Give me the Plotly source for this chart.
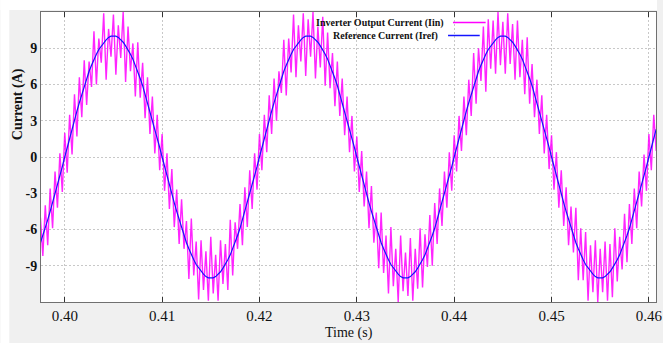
import plotly.graph_objects as go

# ---------------- data ----------------
T_START = 0.3975      # s, first sample
T_STEP = 0.00025      # s, sample spacing

x_tick_values = [0.40, 0.41, 0.42, 0.43, 0.44, 0.45, 0.46]
x_tick_labels = ["0.40", "0.41", "0.42", "0.43", "0.44", "0.45", "0.46"]
y_tick_values = [-9, -6, -3, 0, 3, 6, 9]
y_tick_labels = ["-9", "-6", "-3", "0", "3", "6", "9"]

series_names = ["Inverter Output Current (Iin)", "Reference Current (Iref)"]

# Reference current Iref (A)
i_ref = [
    -7.1, -6.5, -5.9, -5.2, -4.5, -3.8, -3.1, -2.3, -1.6, -0.8,
    0.0, 0.8, 1.6, 2.3, 3.1, 3.8, 4.5, 5.2, 5.9, 6.5, 7.1, 7.6, 8.1, 8.5, 8.9, 9.2, 9.5, 9.7, 9.9, 10.0,
    10.0, 10.0, 9.9, 9.7, 9.5, 9.2, 8.9, 8.5, 8.1, 7.6, 7.1, 6.5, 5.9, 5.2, 4.5, 3.8, 3.1, 2.3, 1.6, 0.8,
    0.0, -0.8, -1.6, -2.3, -3.1, -3.8, -4.5, -5.2, -5.9, -6.5, -7.1, -7.6, -8.1, -8.5, -8.9, -9.2, -9.5, -9.7, -9.9, -10.0,
    -10.0, -10.0, -9.9, -9.7, -9.5, -9.2, -8.9, -8.5, -8.1, -7.6, -7.1, -6.5, -5.9, -5.2, -4.5, -3.8, -3.1, -2.3, -1.6, -0.8,
    0.0, 0.8, 1.6, 2.3, 3.1, 3.8, 4.5, 5.2, 5.9, 6.5, 7.1, 7.6, 8.1, 8.5, 8.9, 9.2, 9.5, 9.7, 9.9, 10.0,
    10.0, 10.0, 9.9, 9.7, 9.5, 9.2, 8.9, 8.5, 8.1, 7.6, 7.1, 6.5, 5.9, 5.2, 4.5, 3.8, 3.1, 2.3, 1.6, 0.8,
    0.0, -0.8, -1.6, -2.3, -3.1, -3.8, -4.5, -5.2, -5.9, -6.5, -7.1, -7.6, -8.1, -8.5, -8.9, -9.2, -9.5, -9.7, -9.9, -10.0,
    -10.0, -10.0, -9.9, -9.7, -9.5, -9.2, -8.9, -8.5, -8.1, -7.6, -7.1, -6.5, -5.9, -5.2, -4.5, -3.8, -3.1, -2.3, -1.6, -0.8,
    0.0, 0.8, 1.6, 2.3, 3.1, 3.8, 4.5, 5.2, 5.9, 6.5, 7.1, 7.6, 8.1, 8.5, 8.9, 9.2, 9.5, 9.7, 9.9, 10.0,
    10.0, 10.0, 9.9, 9.7, 9.5, 9.2, 8.9, 8.5, 8.1, 7.6, 7.1, 6.5, 5.9, 5.2, 4.5, 3.8, 3.1, 2.3, 1.6, 0.8,
    0.0, -0.8, -1.6, -2.3, -3.1, -3.8, -4.5, -5.2, -5.9, -6.5, -7.1, -7.6, -8.1, -8.5, -8.9, -9.2, -9.5, -9.7, -9.9, -10.0,
    -10.0, -10.0, -9.9, -9.7, -9.5, -9.2, -8.9, -8.5, -8.1, -7.6, -7.1, -6.5, -5.9, -5.2, -4.5, -3.8, -3.1, -2.3, -1.6, -0.8,
    0.0, 0.8, 1.6, 2.3,
]

# Inverter output current Iin (A), with switching ripple
i_in = [
    -5.0, -8.2, -4.0, -7.3, -2.6, -5.9, -1.2, -4.2, 0.3, -2.9,
    2.0, -1.3, 3.5, 0.2, 5.2, 1.7, 6.6, 3.3, 8.0, 4.3, 7.9, 5.8, 10.4, 6.0, 9.8, 7.8, 11.9, 6.4, 10.6, 8.3,
    11.8, 6.8, 10.9, 8.2, 12.0, 6.2, 10.8, 7.1, 9.4, 5.0, 9.5, 4.9, 7.8, 3.2, 6.6, 1.9, 5.0, 0.3, 3.5, -1.1,
    1.9, -2.8, 0.3, -4.3, -1.0, -5.8, -2.7, -7.2, -3.5, -7.6, -5.3, -10.1, -5.1, -9.8, -7.0, -11.8, -6.9, -11.0, -7.8, -11.9,
    -6.6, -11.3, -8.1, -11.9, -6.9, -10.5, -7.2, -11.0, -5.2, -9.8, -5.4, -7.6, -3.9, -7.3, -2.5, -5.8, -1.1, -4.3, 0.3, -2.7,
    1.9, -1.1, 3.5, 0.4, 5.1, 1.9, 6.5, 3.0, 7.1, 5.3, 9.7, 5.1, 9.8, 7.0, 11.8, 6.6, 10.9, 7.9, 11.9, 6.7,
    11.4, 8.3, 12.0, 6.5, 10.8, 7.4, 11.6, 5.9, 10.3, 5.7, 8.6, 4.2, 7.9, 3.4, 6.5, 1.8, 5.0, 0.4, 3.4, -1.2,
    1.7, -2.9, 0.5, -4.1, -1.2, -5.9, -2.4, -7.1, -4.6, -9.2, -4.6, -9.6, -6.5, -11.3, -5.8, -10.7, -7.6, -12.0, -6.5, -11.1,
    -7.9, -11.5, -6.7, -11.9, -7.6, -10.9, -5.9, -10.8, -6.4, -9.1, -4.8, -9.0, -3.8, -7.2, -2.6, -5.7, -1.2, -4.2, 0.4, -2.8,
    1.8, -1.2, 3.4, 0.5, 5.0, 1.8, 6.4, 3.4, 8.6, 4.4, 9.0, 6.3, 10.8, 5.4, 11.4, 7.3, 11.3, 6.9, 12.0, 7.6,
    11.2, 6.9, 11.9, 7.7, 11.0, 6.4, 11.3, 6.6, 9.7, 5.2, 9.9, 4.4, 7.7, 3.3, 6.4, 1.9, 5.1, 0.3, 3.5, -1.0,
    1.8, -2.7, 0.4, -4.2, -1.1, -5.7, -2.5, -7.3, -4.1, -7.9, -4.2, -10.2, -5.9, -10.2, -6.2, -11.9, -7.3, -11.2, -6.9, -12.0,
    -7.6, -11.2, -7.0, -11.9, -7.2, -11.6, -5.9, -10.3, -6.6, -9.3, -4.7, -8.7, -3.9, -7.2, -2.6, -5.9, -1.2, -4.1, 0.2, -2.8,
    1.9, -1.1, 3.5, 0.5,
]

times = [T_START + i * T_STEP for i in range(len(i_ref))]

# ---------------- figure ----------------
W, H = 663, 343
L, R, T, B = 41, 1, 12, 41
PW, PH = W - L - R, H - T - B


def px(xp):
    return (xp - L) / PW


def py(yp):
    return (H - B - yp) / PH


SERIF = "Liberation Serif, Times New Roman, serif"

fig = go.Figure()
fig.add_trace(go.Scatter(
    x=times, y=i_in, mode="lines", name=series_names[0],
    line=dict(color="#ff00ff", width=1.4), opacity=0.85, showlegend=False,
))
fig.add_trace(go.Scatter(
    x=times, y=i_ref, mode="lines", name=series_names[1],
    line=dict(color="#1414ff", width=1.2), showlegend=False,
))

shapes = [
    # white strips of the surrounding frame
    dict(type="rect", xref="paper", yref="paper", x0=px(0), x1=px(W), y0=py(10), y1=py(0),
         fillcolor="white", line=dict(width=0), layer="above"),
    dict(type="rect", xref="paper", yref="paper", x0=px(0), x1=px(9), y0=py(H), y1=py(0),
         fillcolor="white", line=dict(width=0), layer="above"),
    # legend samples
    dict(type="line", xref="paper", yref="paper", x0=px(457), x1=px(490), y0=py(22.5), y1=py(22.5),
         line=dict(color="#ff00ff", width=1.5)),
    dict(type="line", xref="paper", yref="paper", x0=px(452), x1=px(484), y0=py(35.5), y1=py(35.5),
         line=dict(color="#1414ff", width=1.5)),
]

annotations = [
    dict(text=series_names[0], xref="paper", yref="paper", x=px(450), y=py(22.5),
         xanchor="right", yanchor="middle", showarrow=False,
         font=dict(family=SERIF, size=10, color="#111", weight="bold")),
    dict(text=series_names[1], xref="paper", yref="paper", x=px(444), y=py(35.5),
         xanchor="right", yanchor="middle", showarrow=False,
         font=dict(family=SERIF, size=10, color="#111", weight="bold")),
    dict(text="Current (A)", xref="paper", yref="paper", x=px(18), y=py(104),
         xanchor="center", yanchor="middle", textangle=-90, showarrow=False,
         font=dict(family=SERIF, size=14, color="#111", weight="bold")),
    dict(text="Time (s)", xref="paper", yref="paper", x=px(352), y=py(333),
         xanchor="center", yanchor="middle", showarrow=False,
         font=dict(family=SERIF, size=14, color="#111")),
]

fig.update_layout(
    width=W, height=H,
    margin=dict(l=L, r=R, t=T, b=B, pad=0),
    paper_bgcolor="#f0f0f0",
    plot_bgcolor="white",
    showlegend=False,
    shapes=shapes,
    annotations=annotations,
    xaxis=dict(
        range=[0.39756, 0.46073],
        tickvals=x_tick_values, ticktext=x_tick_labels,
        ticks="inside", ticklen=5, tickcolor="#333", tickwidth=1,
        showline=True, linecolor="#707070", linewidth=1, mirror="ticks",
        showgrid=True, gridcolor="#c8c8c8", griddash="2px,2px", gridwidth=1,
        zeroline=False,
        tickfont=dict(family=SERIF, size=15, color="#111"),
        ticklabeloverflow="allow",
    ),
    yaxis=dict(
        range=[-12, 12],
        tickvals=y_tick_values, ticktext=y_tick_labels,
        ticks="",
        showline=True, linecolor="#707070", linewidth=1, mirror=True,
        showgrid=True, gridcolor="#c8c8c8", griddash="2px,2px", gridwidth=1,
        zeroline=False,
        tickfont=dict(family=SERIF, size=14, color="#111", weight="bold"),
    ),
)

fig.write_html("out.html")
